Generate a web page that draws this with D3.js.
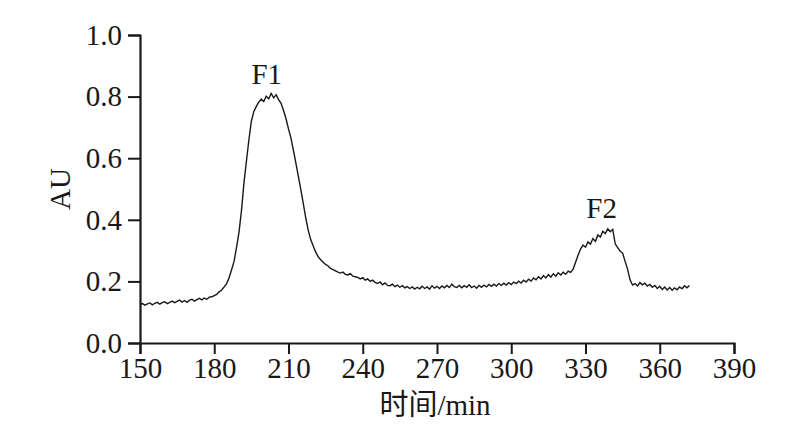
<!DOCTYPE html>
<html>
<head>
<meta charset="utf-8">
<script src="https://cdn.jsdelivr.net/npm/d3@7"></script>
<style>
  body { margin: 0; background: #fff; }
  text { font-family: "Liberation Serif", "Times New Roman", "Noto Sans CJK SC", serif; fill: #1a1718; }
</style>
</head>
<body>
<div id="chart"></div>
<script>
// chart data (time in min, absorbance)
var startTime = 150;
var absorbance = [
  0.125, 0.128, 0.123, 0.127, 0.130, 0.124, 0.129, 0.132, 0.126, 0.131,
  0.134, 0.128, 0.132, 0.136, 0.131, 0.135, 0.139, 0.133, 0.138, 0.132,
  0.139, 0.142, 0.136, 0.141, 0.145, 0.140, 0.146, 0.142, 0.149, 0.150,
  0.154, 0.158, 0.166, 0.172, 0.182, 0.193, 0.212, 0.238, 0.265, 0.310,
  0.360, 0.430, 0.520, 0.590, 0.660, 0.720, 0.752, 0.768, 0.782, 0.792,
  0.784, 0.801, 0.793, 0.810, 0.796, 0.806, 0.790, 0.778, 0.755, 0.728,
  0.695, 0.665, 0.625, 0.583, 0.540, 0.497, 0.452, 0.405, 0.365, 0.335,
  0.315, 0.295, 0.280, 0.270, 0.262, 0.255, 0.250, 0.242, 0.238, 0.234,
  0.230, 0.227, 0.230, 0.223, 0.221, 0.225, 0.217, 0.215, 0.213, 0.208,
  0.212, 0.204, 0.208, 0.200, 0.204, 0.197, 0.193, 0.198, 0.189, 0.195,
  0.187, 0.186, 0.191, 0.183, 0.188, 0.181, 0.186, 0.179, 0.183, 0.177,
  0.182, 0.175, 0.181, 0.176, 0.184, 0.177, 0.182, 0.175, 0.186, 0.178,
  0.184, 0.177, 0.185, 0.179, 0.187, 0.180, 0.191, 0.183, 0.180, 0.187,
  0.179, 0.186, 0.181, 0.189, 0.180, 0.185, 0.178, 0.187, 0.181, 0.188,
  0.182, 0.190, 0.184, 0.191, 0.185, 0.193, 0.187, 0.194, 0.188, 0.196,
  0.190, 0.198, 0.193, 0.201, 0.195, 0.204, 0.198, 0.207, 0.201, 0.211,
  0.205, 0.215, 0.208, 0.219, 0.211, 0.222, 0.214, 0.225, 0.217, 0.228,
  0.221, 0.230, 0.223, 0.233, 0.229, 0.240, 0.262, 0.285, 0.305, 0.318,
  0.311, 0.328, 0.321, 0.339, 0.330, 0.351, 0.344, 0.363, 0.355, 0.371,
  0.361, 0.369, 0.322, 0.310, 0.298, 0.292, 0.265, 0.240, 0.205, 0.188,
  0.193, 0.185, 0.196, 0.189, 0.194, 0.185, 0.190, 0.181, 0.187, 0.177,
  0.184, 0.174, 0.182, 0.172, 0.180, 0.171, 0.179, 0.173, 0.182, 0.176,
  0.186, 0.179, 0.187
];
var xTicks = [150, 180, 210, 240, 270, 300, 330, 360, 390];
var yTicks = [0.0, 0.2, 0.4, 0.6, 0.8, 1.0];
var peaks = [
  { name: "F1", time: 201.2, au: 0.84 },
  { name: "F2", time: 336.5, au: 0.405 }
];

var data = absorbance.map(function(v, i) { return { t: startTime + i, v: v }; });

// Step 1: chart size
var svgWidth = 792;
var svgHeight = 437;
var margin = { top: 35, right: 58, bottom: 94, left: 140 };
var width = svgWidth - margin.left - margin.right;
var height = svgHeight - margin.top - margin.bottom;

var svg = d3.select("#chart")
  .append("svg")
  .attr("width", svgWidth)
  .attr("height", svgHeight);

var chartGroup = svg.append("g")
  .attr("transform", `translate(${margin.left}, ${margin.top})`);

// Step 2: scales and axes
var xScale = d3.scaleLinear().domain([150, 390]).range([0, width]);
var yScale = d3.scaleLinear().domain([0, 1]).range([height, 0]);

var xAxis = d3.axisBottom(xScale).tickValues(xTicks).tickSize(11).tickPadding(3).tickFormat(d3.format("d"));
var yAxis = d3.axisLeft(yScale).tickValues(yTicks).tickSize(12).tickPadding(6).tickFormat(d3.format(".1f"));

var gx = chartGroup.append("g").attr("transform", `translate(0, ${height})`).call(xAxis);
var gy = chartGroup.append("g").call(yAxis);

[gx, gy].forEach(function(g) {
  g.select(".domain").attr("stroke", "#1a1718").attr("stroke-width", 2.2);
  g.selectAll(".tick line").attr("stroke", "#1a1718").attr("stroke-width", 2);
  g.selectAll(".tick text").attr("font-size", "29px").attr("font-family", "Liberation Serif");
});

// Step 3: the trace
var line = d3.line()
  .x(d => xScale(d.t))
  .y(d => yScale(d.v));

chartGroup.append("path")
  .datum(data)
  .attr("fill", "none")
  .attr("stroke", "#1a1718")
  .attr("stroke-width", 1.4)
  .attr("d", line);

// Step 4: peak labels
chartGroup.selectAll(".peak")
  .data(peaks)
  .enter()
  .append("text")
  .attr("class", "peak")
  .attr("x", d => xScale(d.time))
  .attr("y", d => yScale(d.au))
  .attr("text-anchor", "middle")
  .attr("font-size", "29px")
  .text(d => d.name);

// Step 5: axis titles
chartGroup.append("text")
  .attr("x", width / 2 - 2)
  .attr("y", height + 72)
  .attr("text-anchor", "middle")
  .attr("font-size", "29px")
  .text("时间/min");

chartGroup.append("text")
  .attr("transform", "rotate(-90)")
  .attr("x", -height / 2)
  .attr("y", -70)
  .attr("text-anchor", "middle")
  .attr("font-size", "29px")
  .text("AU");
</script>
</body>
</html>
